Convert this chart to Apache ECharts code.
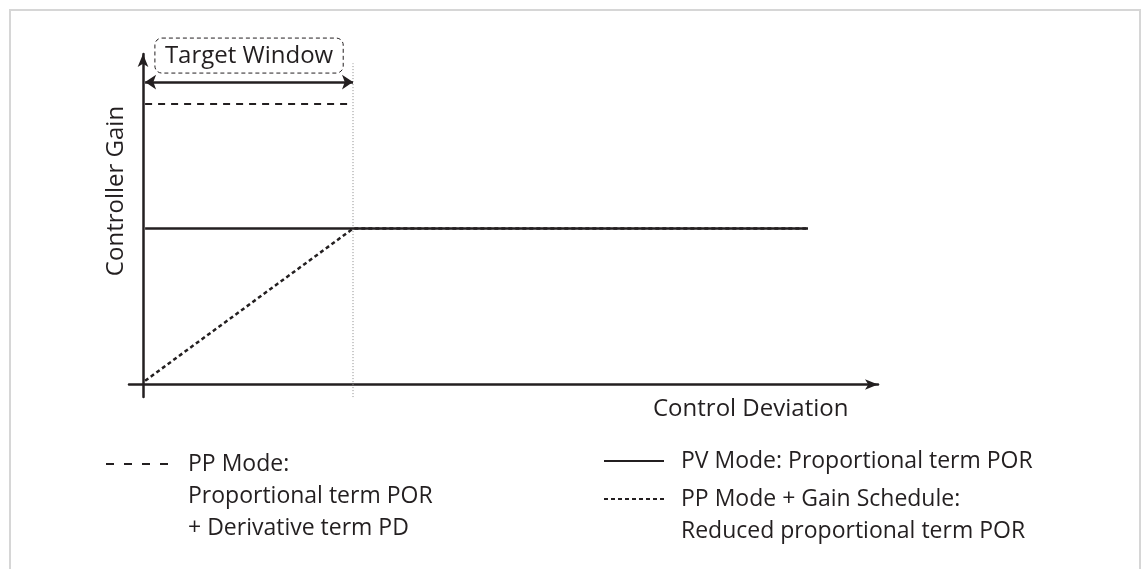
<!DOCTYPE html>
<html>
<head>
<meta charset="utf-8">
<script src="https://cdn.jsdelivr.net/npm/echarts@6/dist/echarts.min.js"></script>
<style>
  html, body { margin: 0; padding: 0; background: #fff; }
  #main { width: 1144px; height: 569px; }
</style>
</head>
<body>
<div id="main"></div>
<script>
// series names + legend wording
var names = ['PP Mode', 'PV Mode', 'PP Mode + Gain Schedule'];
var legendText = [
  ['PP Mode:', 'Proportional term POR', '+ Derivative term PD'],
  ['PV Mode: Proportional term POR'],
  ['PP Mode + Gain Schedule:', 'Reduced proportional term POR']
];

// curves, x = control deviation, y = controller gain
var ppDashed = [[0.03, 9], [3, 9]];
var pvSolid = [[0.03, 5], [9.5, 5]];
var ppGain = [[0.03, 0.12], [3, 5], [9.5, 5]];

// target window
var windowEnd = 3;
var windowArrowY = 9.7;
var windowGuide = [[windowEnd, -0.5], [windowEnd, 10.3]];

var ink = '#231f20';
var font = 'Open Sans';

var chart = echarts.init(document.getElementById('main'));

// legend text is centred on the icon, so pad with empty lines on top
// to keep the icon level with the first line
function legendFor(i, top, dash) {
  var lines = legendText[i];
  var pad = [];
  for (var k = 1; k < lines.length; k++) pad.push(' ');
  return {
    data: [names[i]],
    left: i === 0 ? 100 : 598,
    top: top,
    itemWidth: i === 0 ? 65 : 60,
    itemHeight: 14,
    selectedMode: false,
    itemStyle: { opacity: 0 },
    lineStyle: { type: dash, width: 2, color: ink },
    formatter: function () { return pad.concat(lines).join('\n'); },
    textStyle: {
      fontFamily: font, fontSize: 23, color: ink,
      lineHeight: 32, padding: [0, 0, 0, 12]
    }
  };
}

option = {
  animation: false,
  backgroundColor: '#fff',
  grid: { left: 129, right: 266, top: 54, bottom: 172 },
  xAxis: {
    type: 'value', min: -0.2, max: 10.5,
    axisLine: { onZero: true, symbol: ['none', 'arrow'], symbolSize: [8, 13],
      lineStyle: { color: ink, width: 2.5 } },
    axisTick: { show: false }, axisLabel: { show: false }, splitLine: { show: false }
  },
  yAxis: {
    type: 'value', min: -0.4, max: 10.6,
    axisLine: { onZero: true, symbol: ['none', 'arrow'], symbolSize: [8, 13],
      lineStyle: { color: ink, width: 2.5 } },
    axisTick: { show: false }, axisLabel: { show: false }, splitLine: { show: false }
  },
  legend: [
    legendFor(0, 379, [8, 10]),
    legendFor(1, 440, 'solid'),
    legendFor(2, 446, [4, 3])
  ],
  graphic: [
    { type: 'rect', shape: { x: 10, y: 10, width: 1130, height: 600 }, silent: true,
      style: { fill: 'none', stroke: '#d6d6d6', lineWidth: 2 } },
    { type: 'text', x: 116, y: 191, rotation: Math.PI / 2,
      style: { text: 'Controller Gain', font: '24px "Open Sans"', fill: ink,
        align: 'center', verticalAlign: 'middle' } },
    { type: 'text', x: 653, y: 409,
      style: { text: 'Control Deviation', font: '24px "Open Sans"', fill: ink,
        align: 'left', verticalAlign: 'middle' } }
  ],
  series: [
    {
      name: 'guide', type: 'line', data: windowGuide, symbol: 'none', silent: true,
      lineStyle: { color: '#8a8a8a', width: 1, type: [1, 2] },
      markLine: {
        silent: true, symbol: ['arrow', 'arrow'], symbolSize: 11,
        lineStyle: { color: ink, width: 2.5, type: 'solid' },
        label: {
          show: true, position: 'middle', distance: 9,
          formatter: 'Target Window', fontFamily: font, fontSize: 24, color: ink,
          lineHeight: 30, borderColor: ink, borderWidth: 1, borderType: [4, 3],
          borderRadius: 7, padding: [3, 10, 2, 10]
        },
        data: [[{ coord: [0.03, windowArrowY] }, { coord: [windowEnd, windowArrowY] }]]
      }
    },
    {
      name: names[2], type: 'line', data: ppGain, symbol: 'none',
      itemStyle: { color: ink },
      lineStyle: { color: ink, width: 2.5, type: [4, 3] }
    },
    {
      name: names[1], type: 'line', data: pvSolid, symbol: 'none',
      itemStyle: { color: ink },
      lineStyle: { color: ink, width: 2.5, type: 'solid' }
    },
    {
      name: names[0], type: 'line', data: ppDashed, symbol: 'none',
      itemStyle: { color: ink },
      lineStyle: { color: ink, width: 2, type: [7, 6] }
    }
  ]
};
chart.setOption(option);
</script>
</body>
</html>
